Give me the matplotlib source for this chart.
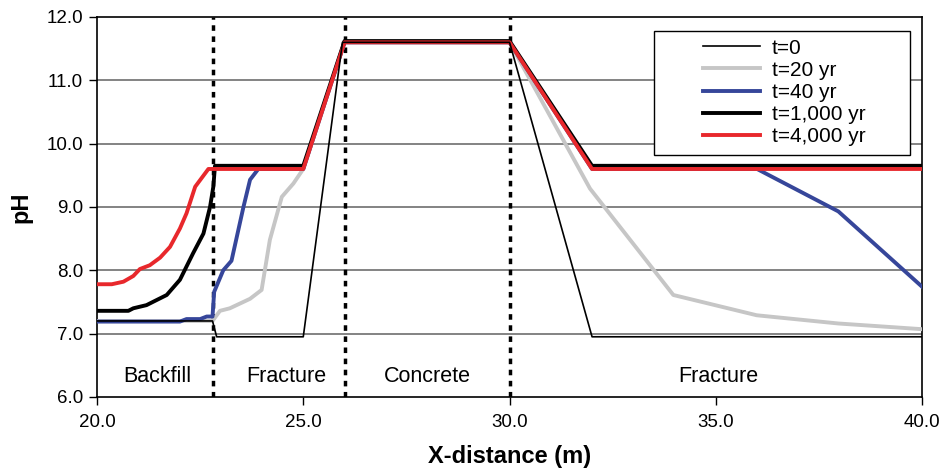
import matplotlib.pyplot as plt
from matplotlib.patches import Rectangle
import numpy as np

plt.rcParams['font.family'] = ['Liberation Sans', 'DejaVu Sans']

# pH profiles along the x-distance (m)
x_t0 = [20.0, 22.8, 22.9, 25.0, 25.95, 30.0, 32.0, 40.0]
ph_t0 = [7.2, 7.2, 6.95, 6.95, 11.6, 11.6, 6.95, 6.95]

x_t20 = [20.0, 22.8, 22.98, 23.22, 23.71, 23.99, 24.19, 24.48, 24.76, 25.0,
         26.0, 30.0, 31.95, 33.97, 35.99, 37.97, 40.0]
ph_t20 = [7.2, 7.2, 7.36, 7.40, 7.55, 7.69, 8.48, 9.16, 9.37, 9.6,
          11.6, 11.6, 9.29, 7.61, 7.29, 7.16, 7.07]

x_t40 = [20.0, 22.01, 22.17, 22.5, 22.66, 22.8, 22.84, 23.06, 23.26, 23.55,
         23.71, 23.91, 25.0, 26.0, 30.0, 32.0, 36.0, 37.97, 40.0]
ph_t40 = [7.19, 7.19, 7.23, 7.23, 7.27, 7.27, 7.66, 8.0, 8.15, 9.0,
          9.43, 9.6, 9.6, 11.6, 11.6, 9.6, 9.6, 8.93, 7.74]

x_t1000 = [20.0, 20.76, 20.88, 21.2, 21.69, 22.01, 22.33, 22.58, 22.74, 22.82,
           22.86, 25.0, 26.0, 30.0, 32.0, 40.0]
ph_t1000 = [7.36, 7.36, 7.40, 7.45, 7.61, 7.85, 8.27, 8.58, 9.0, 9.32,
            9.65, 9.65, 11.62, 11.62, 9.65, 9.65]

x_t4000 = [20.0, 20.36, 20.64, 20.88, 21.04, 21.28, 21.53, 21.77, 22.01, 22.17,
           22.38, 22.7, 25.0, 26.0, 30.0, 32.0, 40.0]
ph_t4000 = [7.78, 7.78, 7.82, 7.91, 8.02, 8.08, 8.20, 8.37, 8.66, 8.90,
            9.32, 9.6, 9.6, 11.6, 11.6, 9.6, 9.6]

boundaries = [22.8, 26.0, 30.0]
zone_names = ['Backfill', 'Fracture', 'Concrete', 'Fracture']
zone_x = [21.45, 24.6, 28.0, 35.05]

fig = plt.figure(figsize=(9.39, 4.72), dpi=100)
ax = fig.add_axes([0.1033, 0.159, 0.8787, 0.805])

for y in [7, 8, 9, 10, 11]:
    ax.axhline(y, color='#6e6e6e', lw=1.2, zorder=1)

for b in boundaries:
    ax.axvline(b, color='black', lw=2.5, ls=(0, (1.6, 1.6)), zorder=2)

ax.plot(x_t0, ph_t0, color='black', lw=1.2, label='t=0', zorder=6)
ax.plot(x_t20, ph_t20, color='#c6c6c6', lw=2.8, label='t=20 yr', zorder=3)
ax.plot(x_t40, ph_t40, color='#36469a', lw=2.8, label='t=40 yr', zorder=4)
ax.plot(x_t1000, ph_t1000, color='black', lw=2.8, label='t=1,000 yr', zorder=4)
ax.plot(x_t4000, ph_t4000, color='#e8282c', lw=2.8, label='t=4,000 yr', zorder=5)

for name, zx in zip(zone_names, zone_x):
    ax.text(zx, 6.33, name, ha='center', va='center', fontsize=15.5)

ax.set_xlim(20, 40)
ax.set_ylim(6, 12)
ax.set_xticks(np.arange(20, 41, 5))
ax.set_yticks(np.arange(6, 12.1, 1))
ax.xaxis.set_major_formatter(plt.FormatStrFormatter('%.1f'))
ax.yaxis.set_major_formatter(plt.FormatStrFormatter('%.1f'))
ax.tick_params(direction='out', length=6, width=1, labelsize=13.5, pad=4)
ax.tick_params(axis='x', pad=6)
for s in ax.spines.values():
    s.set_linewidth(1.2)
    s.set_color('black')

ax.set_xlabel('X-distance (m)', fontsize=17, fontweight='bold', labelpad=10)
ax.set_ylabel('pH', fontsize=17, fontweight='bold', labelpad=10)

# legend box drawn separately so it can be wider than its contents
box = Rectangle((0.675, 0.637), 0.31, 0.326, transform=ax.transAxes,
                facecolor='white', edgecolor='black', lw=1, zorder=9)
ax.add_patch(box)
leg = ax.legend(loc='upper left', bbox_to_anchor=(0.7345, 0.943), fontsize=15,
                frameon=False, handlelength=2.75, handletextpad=0.55,
                labelspacing=0.15, borderpad=0, borderaxespad=0)
leg.set_zorder(10)

fig.savefig('out.png', dpi=100)
